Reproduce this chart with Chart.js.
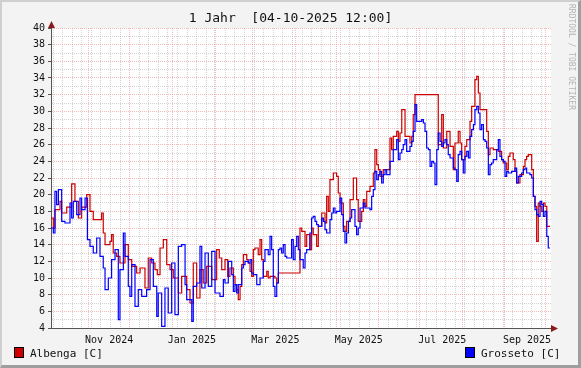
<!DOCTYPE html>
<html>
<head>
<meta charset="utf-8">
<script src="https://cdn.jsdelivr.net/npm/chart.js@4.4.1/dist/chart.umd.min.js"></script>
<style>
    html, body { margin: 0; padding: 0; }
    body { width: 581px; height: 368px; overflow: hidden; position: relative; font-family: 'DejaVu Sans Mono', monospace; }
    #frame {
        position: absolute; left: 0; top: 0; width: 581px; height: 368px; box-sizing: border-box;
        background: #f3f3f3;
        border-top: 2px solid #cfcfcf; border-left: 2px solid #cfcfcf;
        border-right: 3px solid #9e9e9e; border-bottom: 3px solid #9e9e9e;
    }
    #myChart { position: absolute; left: 0; top: 0; }
    #title { position: absolute; left: 0; width: 581px; top: 10px; text-align: center; font-size: 13px; white-space: pre; color: #111; }
    .legend { position: absolute; top: 347px; font-size: 11px; line-height: 14px; white-space: pre; color: #111; }
    .legend span { display: inline-block; width: 8px; height: 9px; border: 1px solid #000; vertical-align: -1px; margin-right: 6px; }
    #credit { position: absolute; left: 567px; top: 4px; font-size: 8px; color: #b4b4b4; writing-mode: vertical-rl; white-space: pre; }
</style>
</head>
<body>
<div id="frame"></div>
<canvas id="myChart" width="581" height="368"></canvas>
<div id="title">1 Jahr  [04-10-2025 12:00]</div>
<div class="legend" style="left:14px"><span style="background:#cc0000"></span>Albenga [C]</div>
<div class="legend" style="left:465px"><span style="background:#0000ff"></span>Grosseto [C]</div>
<div id="credit">RRDTOOL / TOBI OETIKER</div>
<script>
// วันนับจาก 04-10-2024 12:00 (ค่าคงที่ถึงจุดถัดไป)
const albengaDays = [0, 1.7, 2.9, 6.6, 7.8, 11.5, 15.1, 17.5, 20, 22.4, 26.1, 28.5, 30.9, 37, 38.2, 39.5, 43.1, 44.3, 45.5, 48,
    50.4, 54.1, 56.5, 59, 62.6, 65.1, 68.7, 71.1, 73.6, 76, 77.7, 79.7, 82.1, 84.6, 87, 89.4, 93.1, 95.5, 99.2, 101.6,
    104, 106.5, 108.9, 111.3, 113.8, 117.5, 121.1, 123, 124.8, 127.2, 129.2, 130.8, 133.3, 134.5, 135.7, 136.9, 138.2, 139.4, 140.6, 143.1,
    144.2, 145.5, 146.7, 147.9, 149.1, 151.5, 152.8, 154, 155.2, 157.7, 158.8, 160.1, 163.7, 165, 166.2, 182, 183.3, 185.7, 186.9, 189.3,
    190.5, 191.7, 194.2, 195.4, 197.9, 200.3, 201.5, 202.7, 203.9, 206.4, 208.8, 210, 211.3, 213.7, 214.9, 216.1, 218.6, 221, 223.4, 224.6,
    227.1, 228.3, 229.5, 230.8, 233.2, 235.6, 236.8, 238.1, 239.3, 240.5, 242.9, 247.8, 249, 250.2, 252.7, 253.9, 255.1, 256.4, 258.8, 262.4,
    263.7, 264.8, 266.1, 283.1, 285.6, 286.8, 289.3, 291.7, 294.1, 295.3, 297.7, 299, 300.2, 302.6, 303.9, 306.3, 307.5, 309.9, 311.2, 312.4,
    313.6, 318.5, 319.7, 320.9, 323.3, 327, 329.4, 330.6, 333.1, 334.3, 335.5, 337.9, 339.2, 340.4, 342.8, 345.3, 346.5, 347.7, 348.9, 351.4,
    352.6, 353.8, 355, 356.2, 357.5, 358.7, 359.9, 361.1, 362.4, 364.8];
const albengaTemp = [17.2, 16, 18.2, 19.2, 17.8, 18.5, 21.3, 19.2, 17.2, 18.5, 20, 18, 17, 17.8, 15.4, 14, 14.4, 15.2, 13, 12.6,
    11.8, 14, 12.2, 11.4, 10.6, 11.2, 8.8, 12.4, 11.8, 11, 10.4, 13.6, 14.6, 11.6, 11, 10, 8.2, 10.2, 8.6, 7,
    11.8, 7.6, 11, 9.4, 11.4, 9.8, 13.4, 12.4, 11, 12.2, 10.2, 11.2, 10.2, 9.2, 8.6, 7.4, 9, 11.6, 12.8, 12.2,
    11.8, 10.8, 10.2, 13.4, 13.6, 12.8, 14.6, 12.2, 10.2, 10.8, 10, 10.2, 10, 9.4, 10.6, 16, 15.6, 13.8, 15.2, 13.4,
    16, 15.2, 13.8, 16.2, 17.8, 16.6, 19.8, 18, 21.8, 22.6, 22.2, 20.2, 19, 16.2, 15.6, 16.8, 19.4, 22, 19.4, 16.8,
    18, 19.4, 18.6, 20.4, 21, 22.6, 25.4, 23.6, 23, 22.2, 23, 26.8, 25.4, 27, 27.6, 26.4, 27.4, 30.2, 27, 26.2,
    27, 29.6, 32, 26, 29.6, 25.6, 27.6, 25.8, 23, 26.2, 27.6, 26.2, 24.2, 25.8, 26.6, 28.8, 30.6, 33.8, 34.2, 32.2,
    30.2, 27.6, 24.8, 25.6, 25.4, 25.2, 24.2, 23.8, 23, 24.6, 25, 24.2, 22.8, 21.4, 22.4, 23.4, 24.2, 24.6, 24.8, 23,
    19.8, 18.6, 14.4, 19, 18.6, 18, 19, 18.6, 16.2, 16.2];

const grossetoDays = [0, 1.7, 2.9, 4.1, 5.4, 7.8, 10.2, 13.9, 15.1, 16.3, 18.8, 21.2, 22.4, 24.9, 26.6, 28.5, 30.9, 33.4, 35.8, 38.2,
    39.5, 41.9, 44.3, 46.8, 49.2, 50.4, 52.9, 54.1, 56.5, 57.7, 59, 61.4, 63.8, 66.3, 69.9, 72.4, 74.8, 77.3, 78.4, 80.9,
    83.3, 85.7, 88.2, 90.6, 93.1, 95.5, 98, 99.2, 102.9, 104, 106.5, 108.9, 110.2, 112.6, 115, 117.5, 119.9, 123.5, 126, 127.2,
    129.6, 132.1, 133.3, 134.5, 135.7, 136.9, 139.4, 140.6, 141.8, 144.2, 145.5, 146.7, 147.9, 150.4, 152.8, 155.2, 156.4, 158.8, 160.1, 161.3,
    162.5, 163.7, 165, 166.2, 167.4, 168.6, 169.8, 171.1, 172.3, 175.9, 177.1, 178.4, 179.6, 180.8, 182, 184.4, 185.7, 186.9, 189.3, 190.5,
    191.7, 193, 194.2, 195.4, 197.9, 199.1, 200.3, 201.5, 203.9, 205.2, 206.4, 207.6, 208.8, 211.3, 212.5, 213.7, 214.9, 216.1, 217.4, 218.6,
    219.8, 222.2, 223.4, 224.6, 225.9, 228.3, 229.5, 233.2, 234.4, 235.6, 236.8, 238.1, 239.3, 240.5, 241.7, 242.9, 244.2, 245.4, 247.8, 250.2,
    252.7, 253.9, 255.1, 256.4, 257.5, 258.8, 260, 262.4, 263.7, 264.8, 266.1, 267.3, 271, 272.2, 273.4, 274.6, 275.9, 277.1, 278.3, 279.5,
    280.7, 282, 283.1, 284.4, 285.6, 286.8, 288, 289.3, 290.4, 291.7, 294.1, 295.3, 296.6, 297.7, 299, 300.2, 301.4, 302.6, 303.9, 305.1,
    306.3, 307.5, 308.8, 309.9, 311.2, 312.4, 313.6, 314.8, 316.1, 317.3, 318.5, 319.7, 320.9, 322.1, 323.3, 325.8, 327, 328.2, 329.4, 330.6,
    331.9, 333.1, 334.3, 336.7, 339.2, 340.4, 341.6, 344, 345.3, 346.5, 347.7, 350.1, 351.4, 352.6, 353.8, 355, 356.2, 357.5, 358.7, 359.9,
    361.1, 362.4, 363.5, 364.8];
const grossetoTemp = [16, 15.4, 20.4, 18.8, 20.6, 16.8, 16.6, 19, 17.2, 19.2, 17.6, 19.6, 18.2, 19.6, 14.6, 13.8, 13, 14.8, 12.6, 11.2,
    8.6, 10, 12.2, 13.4, 5, 11, 15.4, 12.6, 9, 7.8, 11.6, 6.6, 8.6, 7.8, 8.6, 12.2, 9, 5.4, 8.2, 4.2,
    8.8, 5.8, 11.8, 5.6, 13.8, 14, 9.2, 7.4, 4.8, 9, 9.4, 13.8, 8.8, 13, 9, 13.2, 8.2, 7.8, 9.8, 9.4,
    12, 10.4, 8.4, 9.2, 8.2, 9.2, 11.2, 11.6, 12, 11.8, 12.2, 10.6, 10.4, 9.2, 10, 12, 13.4, 12.8, 15, 13.4,
    9, 7.8, 9.4, 13.4, 13.6, 13, 14, 12.6, 12.4, 14.6, 12.2, 13.8, 15, 13.4, 12.2, 11.2, 13, 13.4, 15.4, 17.2,
    17.4, 16.8, 16.4, 16.2, 17.2, 16.8, 15.8, 15.4, 17, 17.8, 18.4, 17.8, 18, 19.6, 17.6, 15.6, 14.2, 15.4, 16.8, 17.2,
    18.2, 16.2, 15.2, 16, 18.4, 19, 18.4, 18.2, 19.8, 20.6, 22.8, 21.8, 22.4, 22.8, 21.4, 22.4, 23, 22.4, 24, 25.4,
    26.6, 24.2, 25, 25.4, 26, 26.6, 25.2, 25.8, 26.4, 27.6, 30.8, 28.8, 29, 28.6, 27.6, 25.6, 25.4, 23.4, 24, 23.8,
    21.2, 25.4, 27.4, 26.4, 25.8, 26.2, 26.6, 26, 24.8, 24.4, 23.2, 23, 21.6, 24.8, 25.2, 24.2, 22.6, 24.6, 25.2, 24.4,
    27, 27.8, 28.4, 30.2, 30.6, 29.8, 27.8, 28.4, 26.6, 26.4, 25.6, 22.4, 23.6, 23.8, 24.2, 25.4, 26.6, 24.6, 24.2, 24,
    22.2, 22.8, 22.6, 22.8, 23.2, 21.4, 22.2, 22.6, 23, 23.2, 22.6, 22.4, 22, 19.8, 18.2, 17.6, 17.4, 19.2, 18.8, 17.4,
    18, 15, 13.6, 13.6];

// แกน X: ต้นเดือน (เส้นแดง), ป้ายกลางเดือน, วันอาทิตย์ (เส้นเทา)
const monthStartDays = [27.5, 57.5, 88.5, 119.5, 147.5, 178.5, 208.5, 239.5, 269.5, 300.5, 331.5, 361.5];
const xLabelDays = [42.5, 103, 164, 225, 286, 348];
const xTickLabels = ['Nov 2024', 'Jan 2025', 'Mar 2025', 'May 2025', 'Jul 2025', 'Sep 2025'];
const firstSunday = 1.5;
const xMax = 365.5;
const yMin = 4, yMax = 40;

const weekDays = [];
for (let d = firstSunday; d < xMax; d += 7) {
    if (monthStartDays.indexOf(d) < 0) weekDays.push(d);
}
const labelByDay = {};
xLabelDays.forEach(function (d, i) { labelByDay[d] = xTickLabels[i]; });

const gridMajor = 'rgba(235, 120, 120, 0.5)';
const gridMinor = 'rgba(165, 165, 165, 0.5)';

function toPoints(days, temps) {
    return days.map(function (d, i) { return { x: d, y: temps[i] }; });
}

// พื้นหลังสีขาวของพื้นที่กราฟ และลูกศรของแกน
const rrdFrame = {
    id: 'rrdFrame',
    beforeDraw: function (chart) {
        const a = chart.chartArea, ctx = chart.ctx;
        ctx.save();
        ctx.fillStyle = '#ffffff';
        ctx.fillRect(a.left, a.top, a.right - a.left, a.bottom - a.top);
        ctx.restore();
    },
    afterDraw: function (chart) {
        const a = chart.chartArea, ctx = chart.ctx;
        ctx.save();
        ctx.strokeStyle = '#555555';
        ctx.lineWidth = 1;
        ctx.beginPath();
        ctx.moveTo(a.left + 0.5, a.top); ctx.lineTo(a.left + 0.5, a.top - 3);
        ctx.moveTo(a.right, a.bottom + 0.5); ctx.lineTo(a.right + 3, a.bottom + 0.5);
        ctx.stroke();
        ctx.fillStyle = '#8b1a1a';
        ctx.beginPath();
        ctx.moveTo(a.left + 0.5, a.top - 7); ctx.lineTo(a.left - 3, a.top); ctx.lineTo(a.left + 4, a.top);
        ctx.closePath(); ctx.fill();
        ctx.beginPath();
        ctx.moveTo(a.right + 7, a.bottom + 0.5); ctx.lineTo(a.right, a.bottom - 3); ctx.lineTo(a.right, a.bottom + 4);
        ctx.closePath(); ctx.fill();
        ctx.restore();
    }
};

function createChart() {
    const ctx = document.getElementById('myChart').getContext('2d');
    const tickFont = { family: 'DejaVu Sans Mono', size: 10 };

    window.myChart = new Chart(ctx, {
        type: 'line',
        data: {
            datasets: [
                {
                    label: 'Albenga [C]',
                    data: toPoints(albengaDays, albengaTemp),
                    borderColor: '#cc0000',
                    borderWidth: 1.2,
                    stepped: 'before', // ค่าคงที่จนถึงจุดถัดไป
                    pointRadius: 0,
                    fill: false,
                    order: 2
                },
                {
                    label: 'Grosseto [C]',
                    data: toPoints(grossetoDays, grossetoTemp),
                    borderColor: '#0000ff',
                    borderWidth: 1.2,
                    stepped: 'before',
                    pointRadius: 0,
                    fill: false,
                    order: 1
                }
            ]
        },
        options: {
            responsive: false,
            animation: false,
            devicePixelRatio: 1,
            layout: { padding: { left: 5, right: 30, top: 28, bottom: 18 } },
            plugins: {
                legend: { display: false },
                title: { display: false },
                tooltip: { enabled: false }
            },
            scales: {
                x: {
                    type: 'linear',
                    min: 0,
                    max: xMax,
                    afterBuildTicks: function (scale) {
                        const all = weekDays.concat(monthStartDays, xLabelDays).sort(function (a, b) { return a - b; });
                        scale.ticks = all.map(function (v) { return { value: v }; });
                    },
                    afterFit: function (scale) { scale.height = 22; },
                    ticks: {
                        autoSkip: false,
                        maxRotation: 0,
                        padding: 2,
                        color: '#111',
                        font: tickFont,
                        callback: function (value) { return labelByDay[value] || ''; }
                    },
                    grid: {
                        color: function (c) {
                            const v = c.tick.value;
                            if (monthStartDays.indexOf(v) >= 0) return gridMajor;
                            if (labelByDay[v]) return 'rgba(0,0,0,0)';
                            return gridMinor;
                        },
                        tickColor: 'rgba(0,0,0,0)',
                        tickLength: 4
                    },
                    border: { color: '#555555', width: 1, dash: [1, 1] }
                },
                y: {
                    min: yMin,
                    max: yMax,
                    afterFit: function (scale) { scale.width = 46; },
                    ticks: {
                        stepSize: 1,
                        autoSkip: false,
                        padding: 3,
                        color: '#111',
                        font: tickFont,
                        callback: function (value) { return value % 2 === 0 ? String(value) : ''; }
                    },
                    grid: {
                        color: function (c) { return c.tick.value % 2 === 0 ? gridMajor : gridMinor; },
                        tickColor: function (c) { return c.tick.value % 2 === 0 ? '#555555' : 'rgba(0,0,0,0)'; },
                        tickLength: 3
                    },
                    border: { color: '#555555', width: 1, dash: [1, 1] }
                }
            }
        },
        plugins: [rrdFrame]
    });
}

createChart();
</script>
</body>
</html>
